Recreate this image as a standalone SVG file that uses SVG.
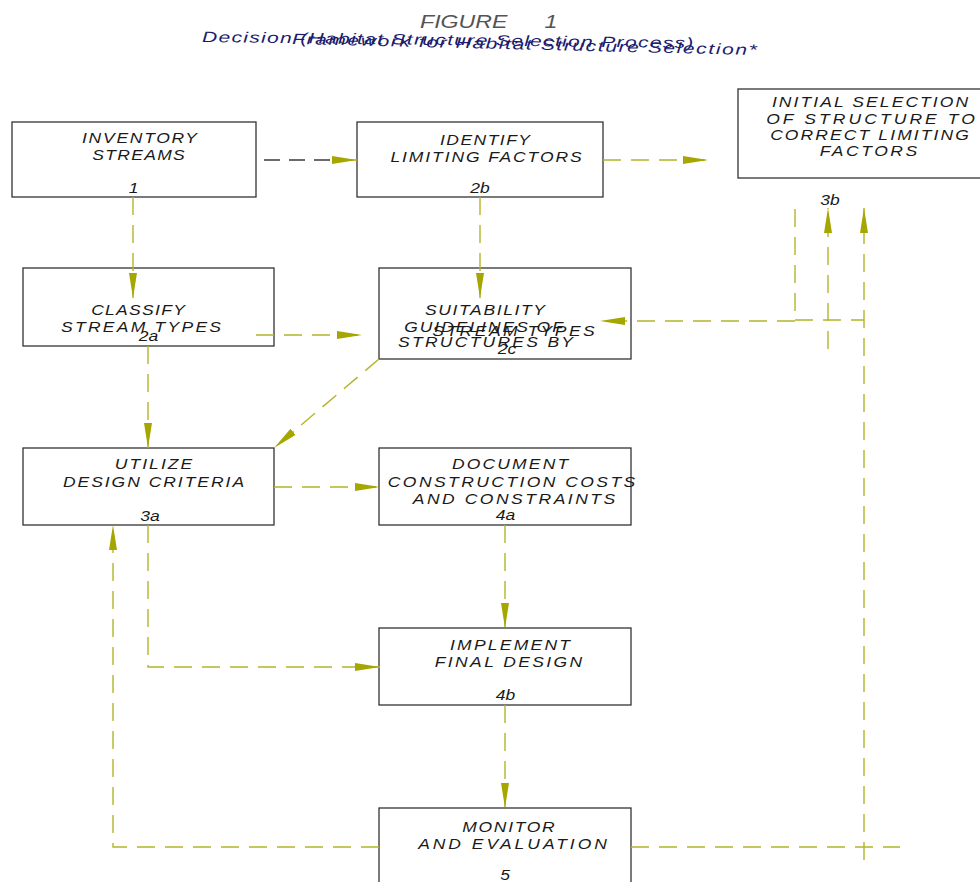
<svg xmlns="http://www.w3.org/2000/svg" width="980" height="882" viewBox="0 0 980 882">
<style>
.box{fill:#ffffff;stroke:#333333;stroke-width:1.3}
.t{font-family:"Liberation Sans",Arial,sans-serif;font-style:italic;font-size:14px;fill:#1a1a1a;text-anchor:middle}
.title{font-family:"Liberation Sans",Arial,sans-serif;font-style:italic;font-size:19px;fill:#555555}
.sub{font-family:"Liberation Sans",Arial,sans-serif;font-style:italic;font-size:15px;fill:#1c1c6e}
.c{fill:none;stroke:#b4b42a;stroke-width:1.4;stroke-dasharray:18 10}
.cd{fill:none;stroke:#3a3a3a;stroke-width:1.3;stroke-dasharray:16 9}
</style>
<defs>
<marker id="ah" markerUnits="userSpaceOnUse" markerWidth="26" markerHeight="9" refX="25" refY="4" orient="auto">
<path d="M0,0 L25,4 L0,8 z" fill="#a6a600"/>
</marker>
</defs>
<rect width="980" height="882" fill="#ffffff"/>
<g id="title">
<text class="title" transform="translate(420,28) scale(1.22 1)"><tspan x="0">FIGURE</tspan><tspan x="102">1</tspan></text>
<text class="sub" transform="translate(202,42) rotate(0.7) scale(1.4 1)" textLength="351" lengthAdjust="spacing">Decision (Habitat Structure Selection Process)</text>
<text class="sub" transform="translate(292,44) rotate(1.35) scale(1.4 1)" textLength="332" lengthAdjust="spacing">Framework for Habitat Structure Selection*</text>
</g>
<g id="n1">
<rect class="box" x="12" y="122" width="244" height="75"/>
<text class="t" transform="translate(139.5,143) scale(1.25 1)" textLength="92" lengthAdjust="spacing">INVENTORY</text>
<text class="t" transform="translate(138.5,160) scale(1.25 1)" textLength="74" lengthAdjust="spacing">STREAMS</text>
<text class="t" transform="translate(133.5,193) scale(1.25 1)">1</text>
</g>
<g id="n2b">
<rect class="box" x="357" y="122" width="246" height="75"/>
<text class="t" transform="translate(485,145) scale(1.25 1)" textLength="72" lengthAdjust="spacing">IDENTIFY</text>
<text class="t" transform="translate(486,162) scale(1.25 1)" textLength="153" lengthAdjust="spacing">LIMITING FACTORS</text>
<text class="t" transform="translate(480,193) scale(1.25 1)">2b</text>
</g>
<g id="n3b">
<rect class="box" x="738" y="89" width="260" height="89"/>
<text class="t" transform="translate(870,107) scale(1.25 1)" textLength="157" lengthAdjust="spacing">INITIAL SELECTION</text>
<text class="t" transform="translate(870.5,124) scale(1.25 1)" textLength="167" lengthAdjust="spacing">OF STRUCTURE TO</text>
<text class="t" transform="translate(869.5,140) scale(1.25 1)" textLength="159" lengthAdjust="spacing">CORRECT LIMITING</text>
<text class="t" transform="translate(868.5,156) scale(1.25 1)" textLength="78" lengthAdjust="spacing">FACTORS</text>
<text class="t" transform="translate(830,205) scale(1.25 1)">3b</text>
</g>
<g id="n2a">
<rect class="box" x="23" y="268" width="251" height="78"/>
<text class="t" transform="translate(138,315) scale(1.25 1)" textLength="75" lengthAdjust="spacing">CLASSIFY</text>
<text class="t" transform="translate(141,332) scale(1.25 1)" textLength="128" lengthAdjust="spacing">STREAM TYPES</text>
<text class="t" transform="translate(148.5,341) scale(1.25 1)">2a</text>
</g>
<g id="n2c">
<rect class="box" x="379" y="268" width="252" height="91"/>
<text class="t" transform="translate(485,315) scale(1.25 1)" textLength="96" lengthAdjust="spacing">SUITABILITY</text>
<text class="t" transform="translate(483.5,332) scale(1.25 1)" textLength="127" lengthAdjust="spacing">GUIDELINES OF</text>
<text class="t" transform="translate(513.5,336) scale(1.25 1)" textLength="130" lengthAdjust="spacing">STREAM TYPES</text>
<text class="t" transform="translate(485.5,347) scale(1.25 1)" textLength="140" lengthAdjust="spacing">STRUCTURES BY</text>
<text class="t" transform="translate(507,354) scale(1.25 1)">2c</text>
</g>
<g id="n3a">
<rect class="box" x="23" y="448" width="251" height="77"/>
<text class="t" transform="translate(153.5,469) scale(1.25 1)" textLength="62" lengthAdjust="spacing">UTILIZE</text>
<text class="t" transform="translate(153.5,487) scale(1.25 1)" textLength="145" lengthAdjust="spacing">DESIGN CRITERIA</text>
<text class="t" transform="translate(150,521) scale(1.25 1)">3a</text>
</g>
<g id="n4a">
<rect class="box" x="379" y="448" width="252" height="77"/>
<text class="t" transform="translate(510,469) scale(1.25 1)" textLength="93" lengthAdjust="spacing">DOCUMENT</text>
<text class="t" transform="translate(511.5,487) scale(1.25 1)" textLength="198" lengthAdjust="spacing">CONSTRUCTION COSTS</text>
<text class="t" transform="translate(514,504) scale(1.25 1)" textLength="162" lengthAdjust="spacing">AND CONSTRAINTS</text>
<text class="t" transform="translate(505.5,520) scale(1.25 1)">4a</text>
</g>
<g id="n4b">
<rect class="box" x="379" y="628" width="252" height="77"/>
<text class="t" transform="translate(510,650) scale(1.25 1)" textLength="96" lengthAdjust="spacing">IMPLEMENT</text>
<text class="t" transform="translate(508.5,667) scale(1.25 1)" textLength="118" lengthAdjust="spacing">FINAL DESIGN</text>
<text class="t" transform="translate(505.5,700) scale(1.25 1)">4b</text>
</g>
<g id="n5">
<rect class="box" x="379" y="808" width="252" height="90"/>
<text class="t" transform="translate(508.5,832) scale(1.25 1)" textLength="74" lengthAdjust="spacing">MONITOR</text>
<text class="t" transform="translate(512.5,849) scale(1.25 1)" textLength="151" lengthAdjust="spacing">AND EVALUATION</text>
<text class="t" transform="translate(505,880) scale(1.25 1)">5</text>
</g>
<g id="connectors">
<path class="cd" d="M264,160 H333"/>
<path class="c" d="M333,160 H357" marker-end="url(#ah)" style="stroke-dasharray:none"/>
<path class="c" d="M603,160 H708" marker-end="url(#ah)"/>
<path class="c" d="M133,197 V298" marker-end="url(#ah)"/>
<path class="c" d="M480,197 V298" marker-end="url(#ah)"/>
<path class="c" d="M256,335 H362" marker-end="url(#ah)"/>
<path class="c" d="M148,346 V448" marker-end="url(#ah)"/>
<path class="c" d="M379,359 L274,448" marker-end="url(#ah)"/>
<path class="c" d="M274,487 H380" marker-end="url(#ah)"/>
<path class="c" d="M505,525 V628" marker-end="url(#ah)"/>
<path class="c" d="M148,525 V667 H380" marker-end="url(#ah)"/>
<path class="c" d="M505,705 V808" marker-end="url(#ah)"/>
<path class="c" d="M379,847 H113 V525" marker-end="url(#ah)"/>
<path class="c" d="M631,847 H900"/>
<path class="c" d="M864,860 V208" marker-end="url(#ah)"/>
<path class="c" d="M828,349 V208" marker-end="url(#ah)"/>
<path class="c" d="M795,209 V321 H600" marker-end="url(#ah)"/>
<path class="c" d="M795,320 H864"/>
</g>
</svg>
